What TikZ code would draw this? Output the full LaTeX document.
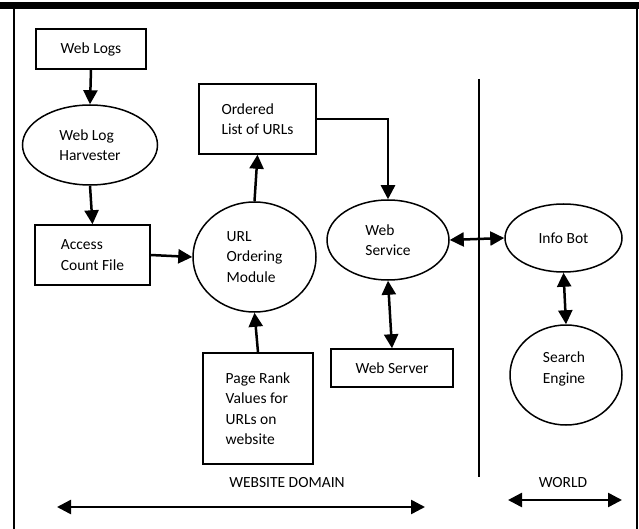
\documentclass[tikz,border=0pt]{standalone}
\usepackage{fontspec}
\setmainfont{Carlito}
\usetikzlibrary{shapes.geometric,arrows.meta}
\newcommand\dfont{\fontsize{15.5}{20.5}\selectfont}
\begin{document}
\begin{tikzpicture}[x=1pt,y=-1pt,
  box/.style={draw,line width=1.5pt,rectangle,inner sep=0pt,align=left,font=\dfont},
  ell/.style={draw,line width=1.5pt,ellipse,inner sep=0pt,align=left,font=\dfont},
  txt/.style={inner sep=0pt,align=center,font=\dfont},
  tip/.tip={Triangle[length=14pt,width=14pt]},
  arr/.style={line width=2.5pt,-tip},
  darr/.style={line width=2.5pt,tip-tip},
  frame/.style={line width=2.5pt}]
\useasboundingbox (0,0) rectangle (639,529);
% frame
\fill (0,2) rectangle (639,9);
\draw[frame] (14,8) -- (14,529);
\draw[frame] (637,8) -- (637,529);
% divider
\coordinate (dtop) at (479,79);
\coordinate (dbot) at (479,477);
\draw[line width=2pt] (dtop) -- (dbot);
% nodes
\node[box,minimum width=110pt,minimum height=40pt] (wl) at (91,49) {Web Logs};
\node[ell,minimum width=135pt,minimum height=80pt] (harv) at (90,145) {Web Log\\Harvester};
\node[box,minimum width=115pt,minimum height=60pt] (acc) at (92.5,255) {Access\\Count File};
\node[box,minimum width=117pt,minimum height=70pt] (ord) at (257.5,119) {Ordered\\List of URLs};
\node[ell,minimum width=123pt,minimum height=110pt] (url) at (254.5,257) {URL\\Ordering\\Module};
\node[box,minimum width=110pt,minimum height=111pt] (pr) at (258,408.5) {Page Rank\\Values for\\URLs on\\website};
\node[ell,minimum width=122pt,minimum height=80pt] (ws) at (388,240) {Web\\Service};
\node[box,minimum width=122pt,minimum height=38pt] (wsv) at (392,368) {Web Server};
\node[ell,minimum width=117pt,minimum height=68pt] (ib) at (563.5,238) {Info Bot};
\node[ell,minimum width=112pt,minimum height=100pt] (se) at (566,375) {};
\node[txt] (setxt) at (564,369) {Search\\Engine};
% connectors
\draw[arr] (wl.south) -- (harv.north);
\draw[arr] (harv.south) -- (acc.north);
\draw[arr] (acc.east) -- (url.west);
\draw[arr] (url.north) -- (ord.south);
\draw[arr] (pr.north) -- (url.south);
\draw[arr] (ord.east) -| (ws.north);
\draw[darr] (ws.east) -- (ib.west);
\draw[darr] (ws.south) -- (wsv.north);
\draw[darr] (ib.south) -- (se.north);
% bottom labels
\node[txt] (wd) at (287,483) {WEBSITE DOMAIN};
\node[txt] (wo) at (563,483) {WORLD};
\coordinate (wdl) at (57,507);
\coordinate (wdr) at (425,507);
\coordinate (wol) at (508,500);
\coordinate (wor) at (622,500);
\draw[darr] (wdl) -- (wdr);
\draw[darr] (wol) -- (wor);
\end{tikzpicture}
\end{document}
